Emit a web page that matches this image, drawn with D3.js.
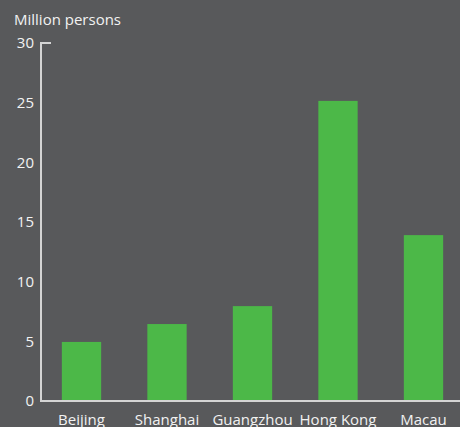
<!DOCTYPE html>
<html>
<head>
<meta charset="utf-8">
<script src="https://cdn.jsdelivr.net/npm/d3@7"></script>
<style>
  html, body { margin: 0; padding: 0; background: #58595b; }
  svg { display: block; }
  text { font-family: "Open Sans", "Noto Sans", sans-serif; fill: #f2f2f2; }
</style>
</head>
<body>
<svg id="chart" width="460" height="427"></svg>
<script>
// Visitor arrivals by city, million persons
const cities = ["Beijing", "Shanghai", "Guangzhou", "Hong Kong", "Macau"];
const visitors = [4.95, 6.45, 7.95, 25.15, 13.9];
const yTicks = [0, 5, 10, 15, 20, 25, 30];
const unitLabel = "Million persons";

const svg = d3.select("#chart");
const W = 460, H = 427;
const axisX = 41, axisBottom = 401, axisTop = 43;
const fontSize = 15;

svg.append("rect").attr("width", W).attr("height", H).attr("fill", "#58595b");

const x = d3.scaleBand()
  .domain(cities)
  .range([38.75, 466.25])
  .paddingInner(0.54)
  .paddingOuter(0.27);

const y = d3.scaleLinear().domain([0, 30]).range([axisBottom, axisTop]);

// Bars
svg.append("g").selectAll("rect")
  .data(cities)
  .join("rect")
  .attr("x", d => x(d))
  .attr("width", x.bandwidth())
  .attr("y", (d, i) => y(visitors[i]))
  .attr("height", (d, i) => y(0) - y(visitors[i]))
  .attr("fill", "#4cb848");

// Y axis: vertical line with a short cap at the top
const yAxis = d3.axisLeft(y).tickValues(yTicks).tickSize(0).tickPadding(7);
const gy = svg.append("g").attr("transform", `translate(${axisX},0)`).call(yAxis);
gy.select(".domain").remove();
gy.selectAll("text")
  .attr("font-size", fontSize)
  .attr("fill", "#f2f2f2")
  .attr("font-family", "\"Open Sans\", \"Noto Sans\", sans-serif");

svg.append("path")
  .attr("d", `M${axisX + 10},${y(30)}H${axisX}V${y(0)}`)
  .attr("fill", "none")
  .attr("stroke", "#d4d4d4")
  .attr("stroke-width", 2);

// X axis
const xAxis = d3.axisBottom(x).tickSize(0).tickPadding(13);
const gx = svg.append("g").attr("transform", `translate(0,${axisBottom})`).call(xAxis);
gx.select(".domain").remove();
gx.selectAll("text")
  .attr("font-size", fontSize)
  .attr("fill", "#f2f2f2")
  .attr("font-family", "\"Open Sans\", \"Noto Sans\", sans-serif");

svg.append("line")
  .attr("x1", axisX - 1).attr("x2", W)
  .attr("y1", axisBottom).attr("y2", axisBottom)
  .attr("stroke", "#d4d4d4")
  .attr("stroke-width", 2);

// Unit label
svg.append("text")
  .attr("x", 14)
  .attr("y", 25)
  .attr("font-size", fontSize)
  .text(unitLabel);
</script>
</body>
</html>
